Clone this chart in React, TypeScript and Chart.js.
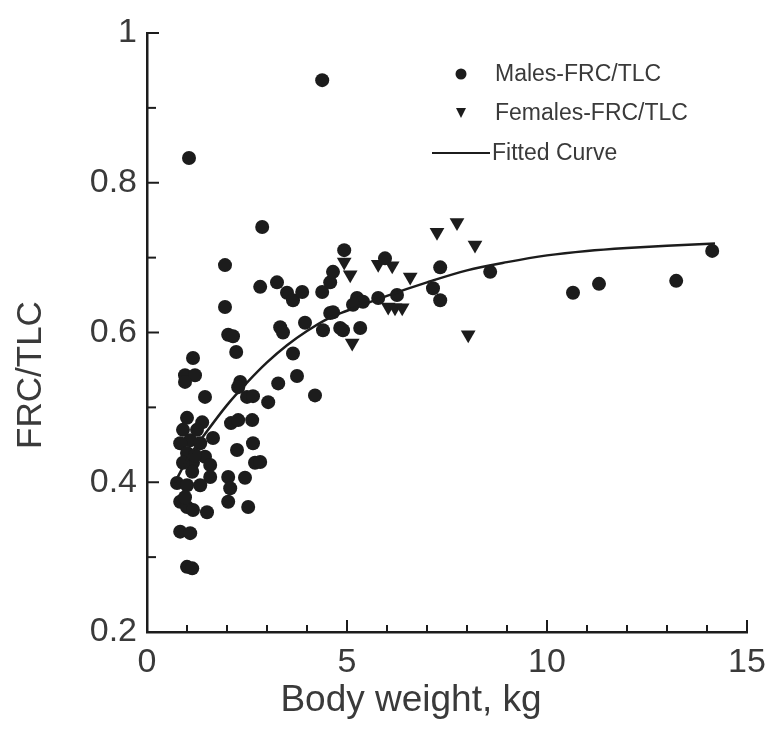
import React, { useEffect, useRef } from "react";
import { Chart, registerables } from "chart.js";

Chart.register(...registerables);

// Males-FRC/TLC (body weight kg, FRC/TLC)
const maleX = [
  1.05, 1.15, 0.95, 1.2, 0.95, 1.45, 1.0, 1.38, 0.9, 1.65, 1.08, 0.83, 1.33, 1.0, 1.45, 1.15, 1.58, 1.13,
  0.75, 1.0, 1.58, 0.83, 1.0, 1.15, 1.5, 0.83, 1.08, 1.0, 1.13, 0.9, 1.25, 0.95, 1.33, 1.2,
  1.95, 1.95, 2.03, 2.15, 2.23, 2.03, 2.08, 2.03, 2.1, 2.28, 2.25, 2.33, 2.28, 2.5, 2.65, 3.03, 2.63,
  2.65, 2.7, 2.83, 2.45, 2.53, 2.83, 2.88,
  3.25, 3.5, 3.65, 3.88, 3.33, 3.4, 3.95, 3.65, 3.28, 3.75, 4.2, 4.38, 4.58, 4.4, 4.58, 4.38, 4.65,
  4.65, 4.83, 4.9, 5.33, 5.25, 5.4, 5.15, 5.78, 6.25, 4.93, 5.95, 7.33, 7.33, 7.15, 8.58,
  10.65, 11.3, 13.23, 14.13,
];
const maleY = [
  0.833, 0.566, 0.543, 0.543, 0.534, 0.514, 0.486, 0.48, 0.47, 0.459, 0.456, 0.452, 0.452, 0.439, 0.434, 0.426, 0.423, 0.414,
  0.399, 0.396, 0.407, 0.374, 0.367, 0.363, 0.36, 0.334, 0.332, 0.287, 0.285, 0.426, 0.47, 0.38, 0.396, 0.436,
  0.69, 0.634, 0.597, 0.595, 0.574, 0.407, 0.392, 0.374, 0.479, 0.483, 0.443, 0.534, 0.527, 0.514, 0.515, 0.507, 0.483,
  0.452, 0.426, 0.427, 0.406, 0.367, 0.661, 0.741,
  0.667, 0.653, 0.643, 0.654, 0.607, 0.6, 0.613, 0.572, 0.532, 0.542, 0.516, 0.654, 0.667, 0.603, 0.626, 0.937, 0.681,
  0.627, 0.606, 0.603, 0.606, 0.646, 0.641, 0.637, 0.646, 0.65, 0.71, 0.699, 0.687, 0.643, 0.659, 0.681,
  0.653, 0.665, 0.669, 0.709,
];

// Females-FRC/TLC
const femaleX = [4.93, 5.08, 6.58, 7.25, 7.75, 8.2, 6.03, 6.2, 6.38, 5.13, 8.03, 5.78, 6.13];
const femaleY = [0.694, 0.677, 0.674, 0.734, 0.747, 0.717, 0.634, 0.633, 0.633, 0.586, 0.597, 0.691, 0.689];

// Fitted curve
const fitX = [0.7, 1.0, 1.5, 2.0, 2.5, 3.0, 3.5, 4.0, 4.5, 5.0, 6.0, 7.0, 8.0, 9.0, 10.0, 11.0, 12.0, 13.0, 14.2];
const fitY = [0.4, 0.43, 0.468, 0.503, 0.533, 0.56, 0.583, 0.602, 0.618, 0.629, 0.649, 0.667, 0.683, 0.694, 0.703, 0.709, 0.713, 0.716, 0.719];

// Axis ticks
const xMajorTicks = [0, 5, 10, 15];
const xMinorTicks = [1, 2, 3, 4, 6, 7, 8, 9, 11, 12, 13, 14];
const yMajorTicks = [0.2, 0.4, 0.6, 0.8, 1];
const yMinorTicks = [0.3, 0.5, 0.7, 0.9];

const xTitle = "Body weight, kg";
const yTitle = "FRC/TLC";
const legendLabels = ["Males-FRC/TLC", "Females-FRC/TLC", "Fitted Curve"];

const INK = "#1c1c1c";
const TEXT = "#3a3a3a";
const FONT = "'Liberation Sans', Arial, Helvetica, sans-serif";

const toPts = (xs: number[], ys: number[]) => xs.map((x, i) => ({ x, y: ys[i] }));

const decorPlugin = {
  id: "decor",
  afterDraw(chart: any) {
    const ctx = chart.ctx as CanvasRenderingContext2D;
    const xs = chart.scales.x;
    const ys = chart.scales.y;
    const { left, bottom } = chart.chartArea;
    ctx.save();
    ctx.strokeStyle = INK;
    ctx.lineWidth = 2;
    const tick = (px: number, len: number) => {
      ctx.beginPath();
      ctx.moveTo(px, bottom);
      ctx.lineTo(px, bottom - len);
      ctx.stroke();
    };
    xMajorTicks.forEach((v) => tick(xs.getPixelForValue(v), 12));
    xMinorTicks.forEach((v) => tick(xs.getPixelForValue(v), 7));
    const ytick = (py: number, len: number) => {
      ctx.beginPath();
      ctx.moveTo(left, py);
      ctx.lineTo(left + len, py);
      ctx.stroke();
    };
    yMajorTicks.forEach((v) => ytick(ys.getPixelForValue(v), 12));
    yMinorTicks.forEach((v) => ytick(ys.getPixelForValue(v), 9));

    // axis titles
    ctx.fillStyle = TEXT;
    ctx.textAlign = "center";
    ctx.textBaseline = "middle";
    ctx.font = `37px ${FONT}`;
    ctx.fillText(xTitle, 411, 701);
    ctx.font = `35px ${FONT}`;
    ctx.save();
    ctx.translate(31, 375);
    ctx.rotate(-Math.PI / 2);
    ctx.fillText(yTitle, 0, 0);
    ctx.restore();

    // legend
    ctx.fillStyle = INK;
    ctx.beginPath();
    ctx.arc(461, 74, 5.5, 0, Math.PI * 2);
    ctx.fill();
    ctx.beginPath();
    ctx.moveTo(456, 108);
    ctx.lineTo(466, 108);
    ctx.lineTo(461, 118);
    ctx.closePath();
    ctx.fill();
    ctx.lineWidth = 2;
    ctx.beginPath();
    ctx.moveTo(432, 153);
    ctx.lineTo(490, 153);
    ctx.stroke();
    ctx.fillStyle = TEXT;
    ctx.font = `23px ${FONT}`;
    ctx.textAlign = "left";
    ctx.fillText(legendLabels[0], 495, 75);
    ctx.fillText(legendLabels[1], 495, 114);
    ctx.fillText(legendLabels[2], 492, 154);
    ctx.restore();
  },
};

export default function App() {
  const ref = useRef<HTMLCanvasElement | null>(null);
  useEffect(() => {
    document.body.style.margin = "0";
    const canvas = ref.current!;
    const chart = new Chart(canvas, {
      type: "scatter",
      data: {
        datasets: [
          {
            label: legendLabels[2],
            data: toPts(fitX, fitY),
            showLine: true,
            borderColor: INK,
            borderWidth: 2.5,
            pointRadius: 0,
            cubicInterpolationMode: "monotone",
            fill: false,
          } as any,
          {
            label: legendLabels[0],
            data: toPts(maleX, maleY),
            pointStyle: "circle",
            pointRadius: 7,
            backgroundColor: INK,
            borderColor: INK,
            borderWidth: 0,
          },
          {
            label: legendLabels[1],
            data: toPts(femaleX, femaleY),
            pointStyle: "triangle",
            rotation: 180,
            pointRadius: 8.5,
            backgroundColor: INK,
            borderColor: INK,
            borderWidth: 0,
          } as any,
        ],
      },
      options: {
        animation: false,
        responsive: false,
        devicePixelRatio: 1,
        layout: { padding: { left: 0, top: 33, right: 53, bottom: 0 } },
        plugins: { legend: { display: false }, tooltip: { enabled: false } },
        scales: {
          x: {
            type: "linear",
            min: 0,
            max: 15,
            afterFit: (s: any) => {
              s.height = 104;
            },
            afterBuildTicks: (s: any) => {
              s.ticks = xMajorTicks.map((v) => ({ value: v }));
            },
            grid: { display: false, drawTicks: false },
            border: { display: true, color: INK, width: 2.5 },
            ticks: {
              padding: 10,
              color: TEXT,
              font: { family: FONT, size: 34 },
              maxRotation: 0,
              callback: (v: any) => String(v),
            },
          },
          y: {
            type: "linear",
            min: 0.2,
            max: 1,
            afterFit: (s: any) => {
              s.width = 147;
            },
            afterBuildTicks: (s: any) => {
              s.ticks = yMajorTicks.map((v) => ({ value: v }));
            },
            grid: { display: false, drawTicks: false },
            border: { display: true, color: INK, width: 2.5 },
            ticks: {
              padding: 10,
              color: TEXT,
              font: { family: FONT, size: 34 },
              callback: (v: any) => String(Number(Number(v).toFixed(1))),
            },
          },
        },
      } as any,
      plugins: [decorPlugin],
    });
    return () => chart.destroy();
  }, []);
  return (
    <div style={{ width: 768, height: 736, overflow: "hidden", background: "#fff" }}>
      <canvas ref={ref} width={800} height={736} style={{ display: "block" }} />
    </div>
  );
}
